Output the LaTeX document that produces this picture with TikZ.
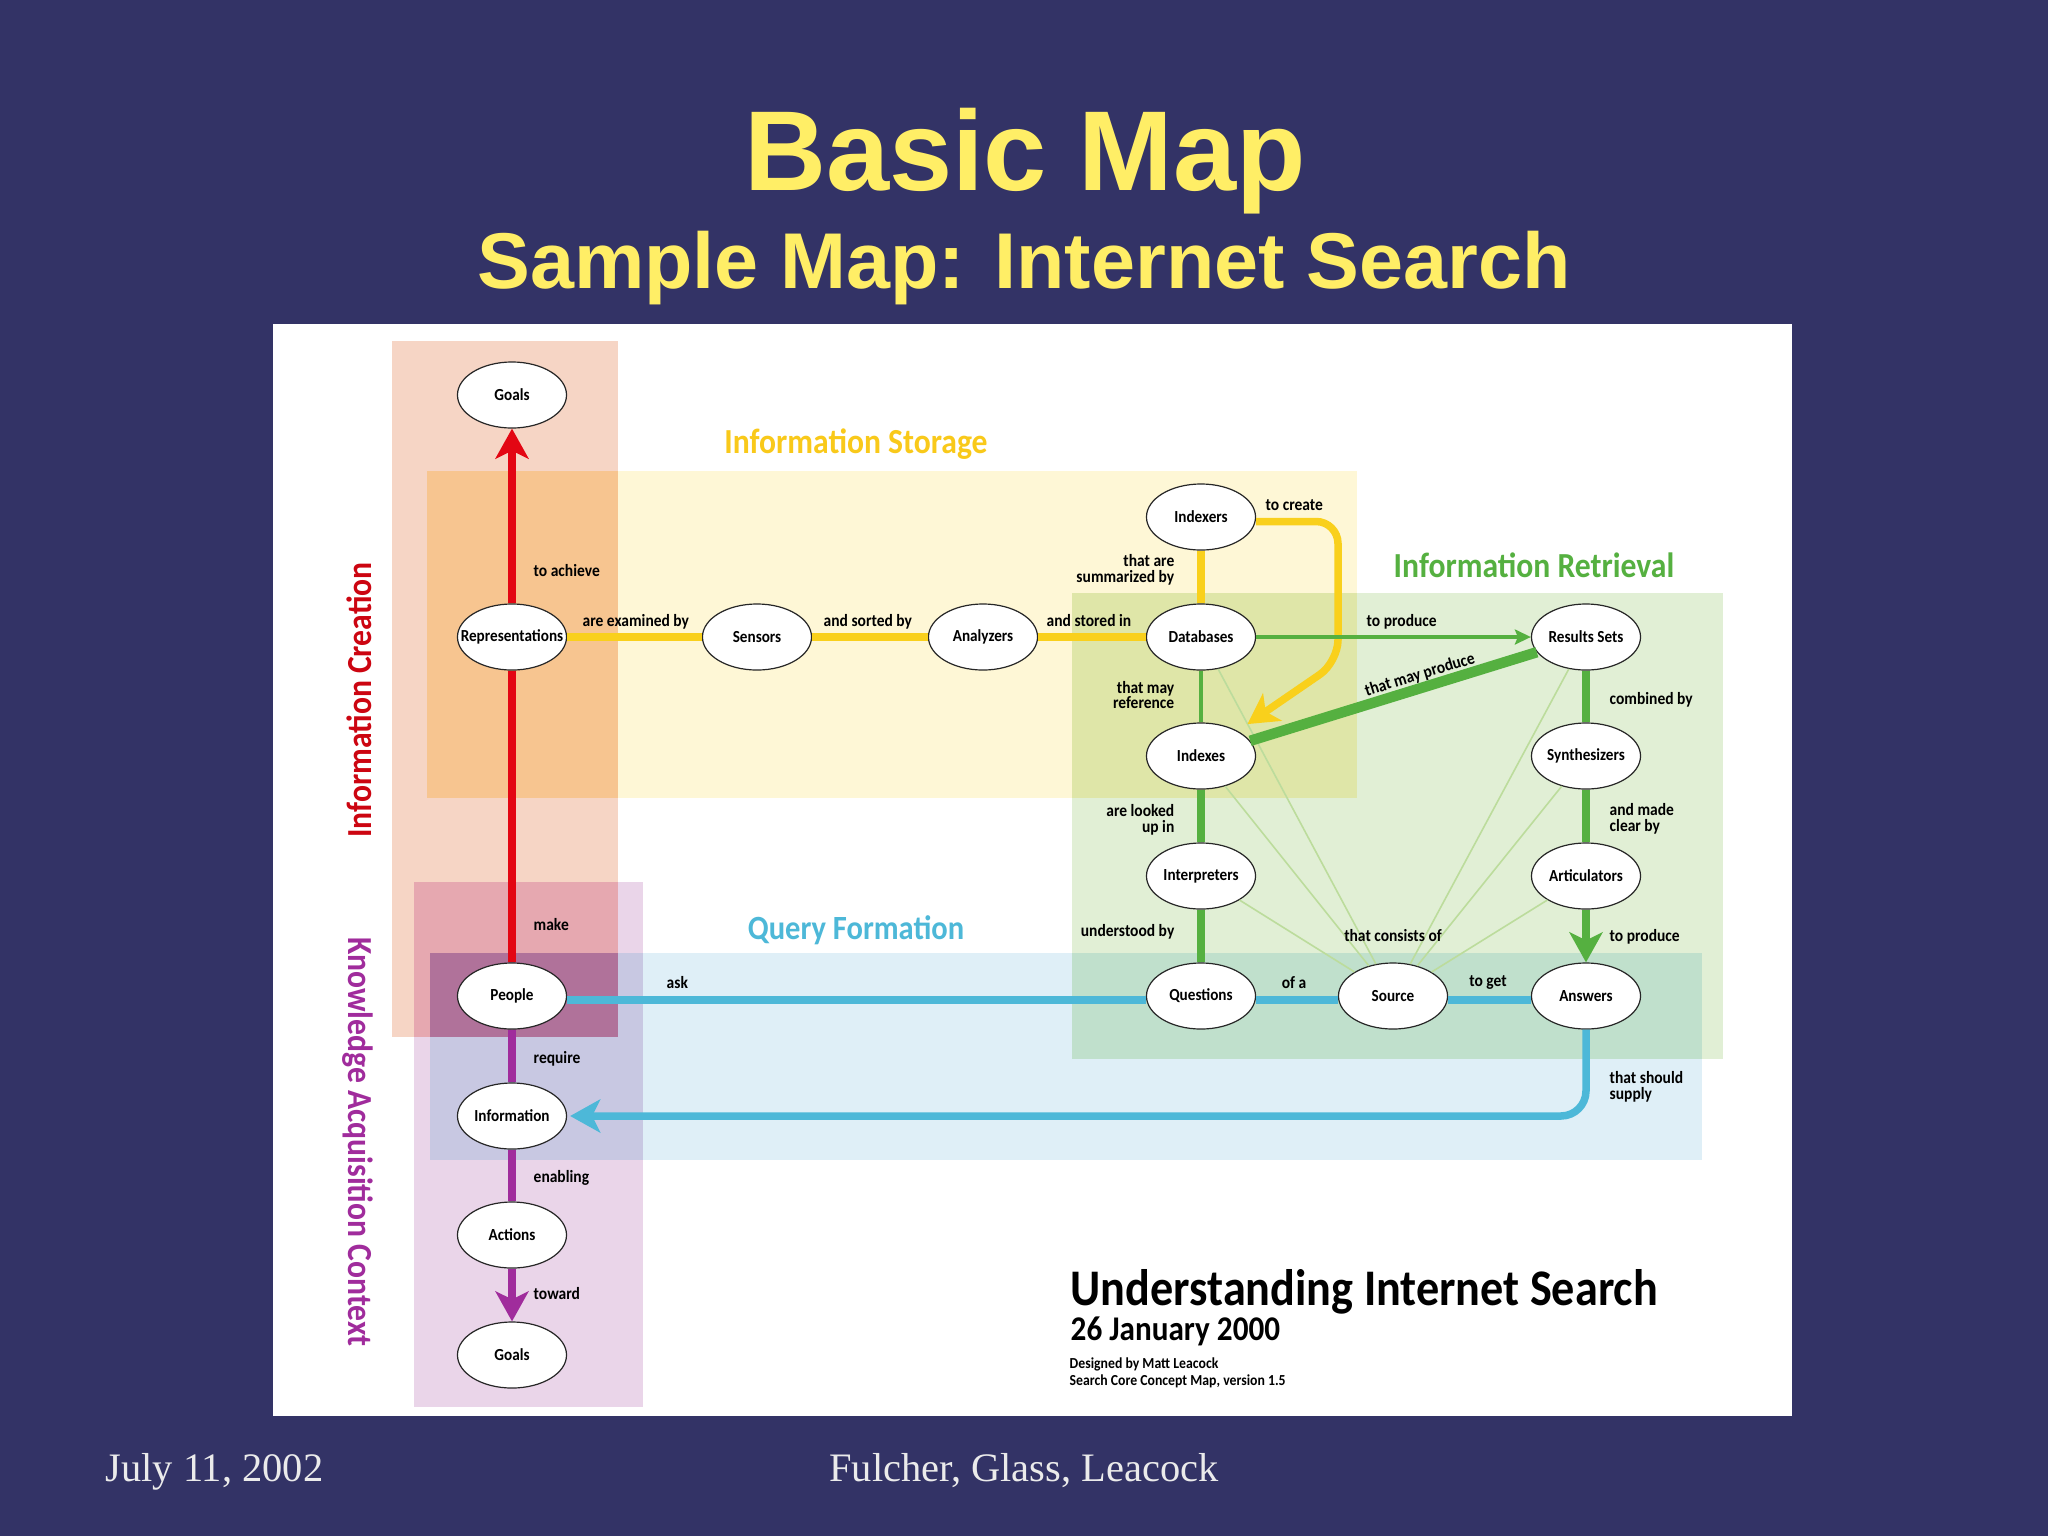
\documentclass[tikz,border=0pt]{standalone}
\usepackage{fontspec}
\setmainfont{Liberation Serif}
\newfontfamily\titlefont{Liberation Sans}
\newfontfamily\mapfont[FakeStretch=0.9]{Carlito}
\usetikzlibrary{shapes.geometric, arrows.meta, positioning}
\definecolor{FondSlide}{HTML}{333366}
\definecolor{TitreSlide}{HTML}{FFEE66}
\definecolor{RedMap}{HTML}{E30613}
\definecolor{YellowMap}{HTML}{F9D01C}
\definecolor{GreenMap}{HTML}{55B040}
\definecolor{PaleGreenMap}{HTML}{BCDC9C}
\definecolor{BlueMap}{HTML}{4DB8D8}
\definecolor{PurpleMap}{HTML}{A02C9C}
\definecolor{CreationBox}{HTML}{F6D5C5}
\definecolor{StorageBox}{HTML}{FEF7D6}
\definecolor{RetrievalBox}{HTML}{E1EFD5}
\definecolor{QueryBox}{HTML}{DFEFF7}
\definecolor{ContextBox}{HTML}{EAD5E9}
\definecolor{CreationStorage}{HTML}{F7C590}
\definecolor{CreationContext}{HTML}{E6A8B0}
\definecolor{ContextQuery}{HTML}{C8C8E2}
\definecolor{AllThree}{HTML}{B0729A}
\definecolor{StorageRetrieval}{HTML}{DFE6A8}
\definecolor{RetrievalQuery}{HTML}{C0E0CC}
\tikzset{
	concept/.style={ellipse, draw=black!85, line width=.012cm, fill=white, inner sep=0,
		minimum width=1.09cm, minimum height=.66cm, font=\mapfont\bfseries\fontsize{4.8}{5}\selectfont},
	linkleft/.style={anchor=west, align=left, inner sep=0, font=\mapfont\bfseries\fontsize{4.9}{4.5}\selectfont},
	linkright/.style={anchor=east, align=right, inner sep=0, font=\mapfont\bfseries\fontsize{4.9}{4.5}\selectfont},
	linkmid/.style={anchor=center, inner sep=0, font=\mapfont\bfseries\fontsize{4.9}{4.5}\selectfont},
	areaname/.style={inner sep=0, font=\mapfont\bfseries\fontsize{10}{11}\selectfont},
	link/.style={line width=.075cm},
	thinlink/.style={line width=.016cm, PaleGreenMap},
	bigtip/.style={arrows={-Stealth[length=.3cm, width=.33cm, inset=.08cm]}}
}
\begin{document}
\begin{tikzpicture}[x=.01cm, y=-.01cm]
    % slide background and white panel
    \fill[FondSlide] (0,0) rectangle (2048,1536);
    \fill[white] (273,324) rectangle (1792,1416);
    \node[anchor=base, inner sep=0, TitreSlide, font=\titlefont\bfseries\fontsize{32.3}{36}\selectfont] (maintitle) at (1025,190) {Basic Map};
    \node[anchor=base, inner sep=0, TitreSlide, font=\titlefont\bfseries\fontsize{22.5}{26}\selectfont] (subtitle) at (1024,288) {Sample Map: Internet Search};
    \node[anchor=base west, inner sep=0, white!92!black, font=\fontsize{11.5}{13}\selectfont] (footdate) at (105,1481) {July 11, 2002};
    \node[anchor=base, inner sep=0, white!92!black, font=\fontsize{11.5}{13}\selectfont] (footnames) at (1024,1481) {Fulcher, Glass, Leacock};

    % coloured areas, overlaps painted on top
    \foreach \xa/\ya/\xb/\yb/\col in {
        392/341/618/1037/CreationBox, 427/471/1357/798/StorageBox, 1072/593/1723/1059/RetrievalBox,
        430/953/1702/1160/QueryBox, 414/882/643/1407/ContextBox,
        427/471/618/798/CreationStorage, 1072/593/1357/798/StorageRetrieval,
        1072/953/1702/1059/RetrievalQuery, 414/882/618/1037/CreationContext,
        430/953/643/1160/ContextQuery, 430/953/618/1037/AllThree} {
        \fill[\col] (\xa,\ya) rectangle (\xb,\yb);
    }

    % concepts
    \foreach \nom/\x/\y/\txt in {
        goalstop/512/395/Goals, representations/512/637/Representations, sensors/757/637/Sensors,
        analyzers/983/637/Analyzers, indexers/1201/517/Indexers, databases/1201/637/Databases,
        indexes/1201/756/Indexes, interpreters/1201/876/Interpreters, questions/1201/996/Questions,
        source/1393/996/Source, answers/1586/996/Answers, articulators/1586/876/Articulators,
        synthesizers/1586/756/Synthesizers, results/1586/637/Results Sets, people/512/996/People,
        information/512/1116/Information, actions/512/1235/Actions, goalsbottom/512/1355/Goals} {
        \node[concept] (\nom) at (\x,\y) {\makebox[0pt]{\txt}};
    }

    % thin lines into Source
    \foreach \nom in {databases,indexes,interpreters,results,synthesizers,articulators} {
        \draw[thinlink] (\nom) -- (source);
    }

    % Information Creation
    \draw[link, RedMap] (people) -- (representations);
    \draw[link, RedMap, bigtip] (representations) -- (goalstop);

    % Information Storage
    \coordinate (bendtop) at (1338,521.5);
    \coordinate (bendlow) at (1338,662);
    \draw[link, YellowMap] (representations) -- (sensors);
    \draw[link, YellowMap] (sensors) -- (analyzers);
    \draw[link, YellowMap] (analyzers) -- (databases);
    \draw[link, YellowMap] (indexers) -- (databases);
    \draw[link, YellowMap, bigtip, rounded corners=.22cm, shorten >=.12cm] ([yshift=-.045cm]indexers.east) -- (bendtop) -- (bendlow) -- (indexes);

    % Information Retrieval
    \draw[line width=.036cm, GreenMap, arrows={-Stealth[length=.16cm, width=.15cm, inset=.03cm]}] (databases) -- (results);
    \draw[line width=.046cm, GreenMap] (databases) -- (indexes);
    \draw[line width=.105cm, GreenMap] (indexes) -- (results);
    \draw[link, GreenMap] (indexes) -- (interpreters);
    \draw[link, GreenMap] (interpreters) -- (questions);
    \draw[link, GreenMap] (results) -- (synthesizers);
    \draw[link, GreenMap] (synthesizers) -- (articulators);
    \draw[link, GreenMap, bigtip] (articulators) -- (answers);

    % Query Formation
    \coordinate (bendinfo) at (1586,1116);
    \draw[link, BlueMap] ([yshift=-.04cm]people.east) -- ([yshift=-.04cm]questions.west);
    \draw[link, BlueMap] ([yshift=-.04cm]questions.east) -- ([yshift=-.04cm]source.west);
    \draw[link, BlueMap] ([yshift=-.04cm]source.east) -- ([yshift=-.04cm]answers.west);
    \draw[link, BlueMap, bigtip, rounded corners=.25cm, shorten >=.03cm] (answers.south) -- (bendinfo) -- (information.east);

    % Knowledge Acquisition Context
    \draw[link, PurpleMap] (people) -- (information);
    \draw[link, PurpleMap] (information) -- (actions);
    \draw[link, PurpleMap, bigtip] (actions) -- (goalsbottom);

    % link labels
    \foreach \nom/\x/\y/\txt in {
        lblachieve/533/571/to achieve, lblexamined/582/622/are examined by, lblsorted/823/622/and sorted by,
        lblstored/1046/621/and stored in, lblcreate/1265/505/to create, lblproduce/1366/622/to produce,
        lblcombined/1609/700/combined by, lblclear/1609/819/{and made\\clear by}, lblanswers/1609/937/to produce,
        lblsupply/1609/1087/{that should\\supply}, lblask/666/983/ask, lblmake/533/925/make,
        lblrequire/533/1059/require, lblenabling/533/1178/enabling, lbltoward/533/1293/toward} {
        \node[linkleft] (\nom) at (\x,\y) {\txt};
    }
    \foreach \nom/\x/\y/\txt in {
        lblsummarized/1175/570/{that are\\summarized by}, lblreference/1175/695/{that may\\reference},
        lbllooked/1175/820/{are looked\\up in}, lblunderstood/1175/932/understood by} {
        \node[linkright] (\nom) at (\x,\y) {\txt};
    }
    \node[linkmid] (lblconsists) at (1393,936) {that consists of};
    \node[linkmid] (lblofa) at (1294,983) {of a};
    \node[linkmid] (lblget) at (1488,983) {to get};
    \node[linkmid, rotate=17] (lblmayproduce) at (1420,675) {that may produce};

    % area names
    \node[areaname, YellowMap!92!orange] (namestorage) at (856,444) {Information Storage};
    \node[areaname, GreenMap] (nameretrieval) at (1534,565) {Information Retrieval};
    \node[areaname, BlueMap, font=\mapfont\bfseries\fontsize{9.65}{11}\selectfont] (namequery) at (856,930) {Query Formation};
    \node[areaname, RedMap!90!black, rotate=90] (namecreation) at (359,700) {Information Creation};
    \node[areaname, PurpleMap, rotate=-90] (namecontext) at (358,1142) {Knowledge Acquisition Context};

    % map credits
    \node[anchor=west, inner sep=0, font=\mapfont\bfseries\fontsize{14.6}{16}\selectfont] (creditname) at (1070,1292) {Understanding Internet Search};
    \node[anchor=west, inner sep=0, font=\mapfont\bfseries\fontsize{9.85}{11}\selectfont] (creditdate) at (1070,1331) {26 January 2000};
    \node[anchor=west, inner sep=0, font=\mapfont\bfseries\fontsize{4.35}{5}\selectfont] (creditauthor) at (1069,1364) {Designed by Matt Leacock};
    \node[anchor=west, inner sep=0, font=\mapfont\bfseries\fontsize{4.35}{5}\selectfont] (creditversion) at (1069,1381) {Search Core Concept Map, version 1.5};
\end{tikzpicture}
\end{document}
